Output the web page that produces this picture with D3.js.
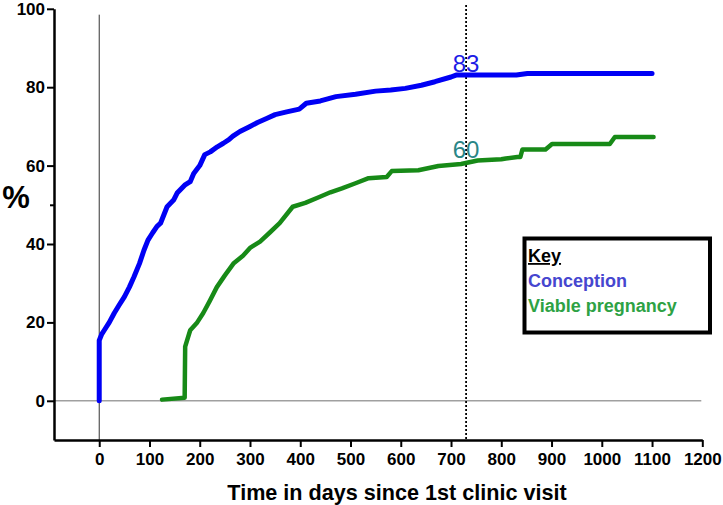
<!DOCTYPE html>
<html>
<head>
<meta charset="utf-8">
<script src="https://cdnjs.cloudflare.com/ajax/libs/d3/7.8.5/d3.min.js"></script>
<style>
  body { margin: 0; background: #fff; }
  svg { display: block; font-family: "Liberation Sans", Arial, sans-serif; }
</style>
</head>
<body>
<svg id="chart" width="723" height="505"></svg>
<script>
// cumulative % by day since first clinic visit
const conceptionDays = [0, 0, 5, 10, 20, 30, 40, 50, 60, 69, 80, 89, 97, 106, 115, 122, 135, 148, 155, 170, 181, 188, 200, 210, 221, 235, 247, 258, 266, 280, 300, 315, 333, 350, 373, 398, 412, 440, 471, 510, 550, 580, 609, 641, 668, 700, 710, 830, 852, 1100];
const conceptionPct = [0, 15.4, 17, 18, 20, 22.4, 24.5, 26.5, 29, 31.6, 35, 38.4, 41, 42.8, 44.5, 45.3, 49.5, 51.2, 53, 55, 55.9, 58, 60, 62.8, 63.5, 64.8, 65.7, 66.6, 67.5, 68.7, 70, 71, 72, 73, 73.7, 74.4, 75.9, 76.5, 77.6, 78.2, 79, 79.3, 79.7, 80.5, 81.4, 82.6, 83.1, 83.1, 83.5, 83.5];

const viableDays = [125, 170, 171, 181, 195, 207, 220, 234, 250, 267, 286, 300, 320, 340, 359, 385, 410, 438, 460, 483, 510, 536, 572, 582, 635, 675, 720, 753, 800, 809, 832, 838, 842, 888, 901, 1016, 1026, 1103];
const viablePct = [0.3, 0.8, 13.8, 18, 20, 22.4, 25.5, 29, 32, 35, 37, 39, 40.6, 43, 45.3, 49.5, 50.5, 52, 53.2, 54.2, 55.5, 56.8, 57.1, 58.6, 58.8, 59.9, 60.4, 61.3, 61.6, 61.8, 62.2, 62.2, 64.1, 64.1, 65.5, 65.5, 67.3, 67.3];

const xTicks = [0, 100, 200, 300, 400, 500, 600, 700, 800, 900, 1000, 1100, 1200];
const yTicks = [0, 20, 40, 60, 80, 100];
const yMinorTicks = [50];

const markerDay = 730;
const markerLabels = [83, 60];
const keyLabels = ["Conception", "Viable pregnancy"];

const svg = d3.select('#chart');

const x = d3.scaleLinear().domain([-90, 1200]).range([54, 702.3]);
const y = d3.scaleLinear().domain([-10, 100]).range([440, 8.8]);

// zero reference line
svg.append('line')
  .attr('x1', x(-90)).attr('x2', x(1200) - 1)
  .attr('y1', y(0)).attr('y2', y(0))
  .attr('stroke', '#a0a0a0').attr('stroke-width', 1.5);

// thin line at day 0
svg.append('line')
  .attr('x1', x(0)).attr('x2', x(0))
  .attr('y1', y(98.5)).attr('y2', y(-10))
  .attr('stroke', '#333').attr('stroke-width', 1);

// dotted 2-year marker
svg.append('line')
  .attr('x1', x(markerDay)).attr('x2', x(markerDay))
  .attr('y1', y(101)).attr('y2', y(-10))
  .attr('stroke', '#000').attr('stroke-width', 1.8)
  .attr('stroke-dasharray', '2,2');

// axes
const styleAxis = g => g
  .attr('font-family', '"Liberation Sans", Arial, sans-serif')
  .attr('font-size', 17)
  .attr('font-weight', 'bold');

svg.append('g')
  .attr('transform', `translate(0,${y(-10)})`)
  .call(d3.axisBottom(x).tickValues(xTicks).tickFormat(d3.format('d'))
    .tickSize(7).tickSizeOuter(0).tickPadding(6))
  .call(styleAxis);

svg.append('g')
  .attr('transform', `translate(${x(-90)},0)`)
  .call(d3.axisLeft(y).tickValues(yTicks).tickSize(7).tickSizeOuter(0).tickPadding(2))
  .call(styleAxis);

svg.append('g')
  .attr('transform', `translate(${x(-90)},0)`)
  .call(d3.axisLeft(y).tickValues(yMinorTicks).tickSize(4).tickSizeOuter(0).tickFormat(''))
  .call(g => g.select('.domain').remove());

svg.selectAll('.domain').attr('stroke', '#000').attr('stroke-width', 2.5);
svg.selectAll('.tick line').attr('stroke', '#000').attr('stroke-width', 2);
svg.selectAll('.tick text').attr('fill', '#000');

// curves
const line = d3.line()
  .x(d => x(d[0]))
  .y(d => y(d[1]));

svg.append('path')
  .datum(viableDays.map((d, i) => [d, viablePct[i]]))
  .attr('fill', 'none')
  .attr('stroke', '#178a17')
  .attr('stroke-width', 4.5)
  .attr('stroke-linecap', 'round')
  .attr('stroke-linejoin', 'round')
  .attr('d', line);

svg.append('path')
  .datum(conceptionDays.map((d, i) => [d, conceptionPct[i]]))
  .attr('fill', 'none')
  .attr('stroke', '#0000f5')
  .attr('stroke-width', 5)
  .attr('stroke-linecap', 'round')
  .attr('stroke-linejoin', 'round')
  .attr('d', line);

// values at 730 days
svg.append('text')
  .attr('x', x(markerDay)).attr('y', 72)
  .attr('text-anchor', 'middle')
  .attr('font-size', 24).attr('fill', '#1c1ce6')
  .text(markerLabels[0]);

svg.append('text')
  .attr('x', x(markerDay)).attr('y', 158)
  .attr('text-anchor', 'middle')
  .attr('font-size', 24).attr('fill', '#2a8686')
  .text(markerLabels[1]);

// axis titles
svg.append('text')
  .attr('x', 397).attr('y', 500)
  .attr('text-anchor', 'middle')
  .attr('font-size', 21.6).attr('font-weight', 'bold')
  .text('Time in days since 1st clinic visit');

svg.append('text')
  .attr('x', 16).attr('y', 208)
  .attr('text-anchor', 'middle')
  .attr('font-size', 31).attr('font-weight', 'bold')
  .text('%');

// key
svg.append('rect')
  .attr('x', 524.5).attr('y', 238.5)
  .attr('width', 185.5).attr('height', 94)
  .attr('fill', '#fff').attr('stroke', '#000').attr('stroke-width', 4);

svg.append('text')
  .attr('x', 528).attr('y', 262)
  .attr('font-size', 18).attr('font-weight', 'bold')
  .attr('text-decoration', 'underline')
  .text('Key');

svg.append('text')
  .attr('x', 528).attr('y', 287)
  .attr('font-size', 18).attr('font-weight', 'bold').attr('fill', '#4646cf')
  .text(keyLabels[0]);

svg.append('text')
  .attr('x', 528).attr('y', 312)
  .attr('font-size', 18).attr('font-weight', 'bold').attr('fill', '#2ea244')
  .text(keyLabels[1]);
</script>
</body>
</html>
